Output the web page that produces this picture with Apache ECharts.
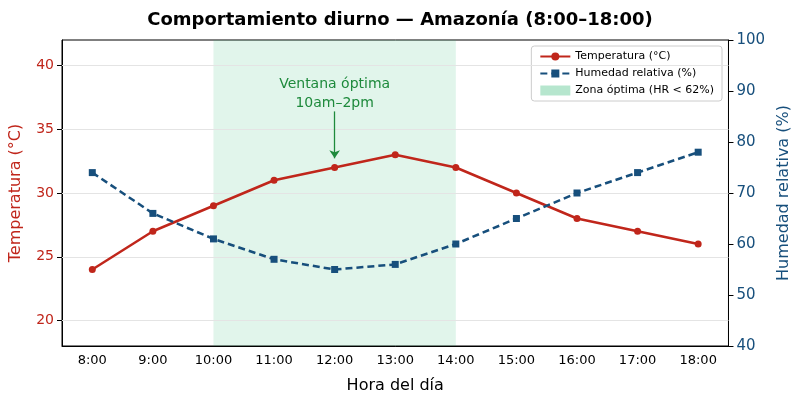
<!DOCTYPE html>
<html><head><meta charset="utf-8">
<script src="https://cdn.jsdelivr.net/npm/echarts@6/dist/echarts.min.js"></script>
<style>html,body{margin:0;background:#fff}#c{width:800px;height:409px}</style>
</head><body><div id="c"></div>
<script>
const hours = ['8:00', '9:00', '10:00', '11:00', '12:00', '13:00', '14:00', '15:00', '16:00', '17:00', '18:00'];
const temperatura = [24, 27, 29, 31, 32, 33, 32, 30, 28, 27, 26];
const humedad = [74, 66, 61, 57, 55, 56, 60, 65, 70, 74, 78];
const tempTicks = [20, 25, 30, 35, 40];

const RED = '#c0261b', BLUE = '#174f7c', GREEN = '#1e8a3c';
const chart = echarts.init(document.getElementById('c'));
chart.setOption({
  animation: false,
  textStyle: { fontFamily: 'DejaVu Sans' },
  title: { text: 'Comportamiento diurno — Amazonía (8:00–18:00)', left: 'center', top: 6,
    textStyle: { fontSize: 18, fontWeight: 'bold', color: '#000' } },
  legend: {
    orient: 'vertical', right: 78, top: 46, itemGap: 6, itemWidth: 30, itemHeight: 10,
    borderColor: '#ccc', borderWidth: 1, borderRadius: 3, padding: [5, 8],
    textStyle: { fontSize: 11, color: '#000' },
    data: [
      { name: 'Temperatura (°C)' },
      { name: 'Humedad relativa (%)' },
      { name: 'Zona óptima (HR < 62%)', icon: 'rect', itemStyle: { color: 'rgba(46,184,114,0.35)' } }
    ]
  },
  grid: { left: 62, right: 71, top: 40, bottom: 63, show: true, borderColor: '#000', borderWidth: 1 },
  xAxis: {
    type: 'category', data: hours, boundaryGap: true,
    name: 'Hora del día', nameLocation: 'middle', nameGap: 32,
    nameTextStyle: { fontSize: 16, color: '#000' },
    axisLine: { lineStyle: { color: '#000' } },
    axisTick: { alignWithLabel: true, lineStyle: { color: '#000' } },
    axisLabel: { color: '#000', fontSize: 13 }
  },
  yAxis: [{
    type: 'value', min: 18, max: 42,
    name: 'Temperatura (°C)', nameLocation: 'middle', nameGap: 38, nameRotate: 90,
    nameTextStyle: { fontSize: 16, color: RED },
    axisLine: { show: true, lineStyle: { color: '#000' } },
    axisTick: { show: true, customValues: tempTicks, lineStyle: { color: '#000' } },
    axisLabel: { color: RED, fontSize: 14, customValues: tempTicks },
    splitLine: { show: false }
  }, {
    type: 'value', min: 40, max: 100, interval: 10,
    name: 'Humedad relativa (%)', nameLocation: 'middle', nameGap: 46, nameRotate: 90,
    nameTextStyle: { fontSize: 16, color: BLUE },
    axisLine: { show: true, lineStyle: { color: '#000' } },
    axisTick: { show: true, lineStyle: { color: '#000' } },
    axisLabel: { color: BLUE, fontSize: 15 },
    splitLine: { show: false }
  }],
  series: [{
    name: 'Zona óptima (HR < 62%)', type: 'line', data: [],
    itemStyle: { color: 'rgba(46,184,114,0.35)' },
    markArea: { silent: true, itemStyle: { color: 'rgba(46,184,114,0.14)' },
      data: [[{ xAxis: '10:00' }, { xAxis: '14:00' }]] }
  }, {
    name: 'Temperatura (°C)', type: 'line', data: temperatura, yAxisIndex: 0,
    color: RED, lineStyle: { width: 2.5 }, symbol: 'circle', symbolSize: 7, z: 5,
    markLine: {
      silent: true, symbol: 'none', label: { show: false },
      lineStyle: { color: '#e4e4e4', type: 'solid', width: 1 },
      data: tempTicks.map(v => ({ yAxis: v }))
    }
  }, {
    name: 'Humedad relativa (%)', type: 'line', data: humedad, yAxisIndex: 1,
    color: BLUE, lineStyle: { width: 2.5, type: [7, 4] }, symbol: 'rect', symbolSize: 7, z: 5,
    markLine: {
      silent: true, symbol: ['none', 'arrow'], symbolSize: 8,
      lineStyle: { color: GREEN, type: 'solid', width: 1.3 },
      label: { show: false },
      data: [[{ coord: ['12:00', 86] }, { coord: ['12:00', 76.8] }]]
    },
    markPoint: {
      symbol: 'rect', symbolSize: 1, itemStyle: { color: 'transparent' },
      label: { show: true, position: 'inside', color: GREEN, fontSize: 14, lineHeight: 19,
        formatter: 'Ventana óptima\n10am–2pm' },
      data: [{ coord: ['12:00', 89.5] }]
    }
  }]
});
</script></body></html>
